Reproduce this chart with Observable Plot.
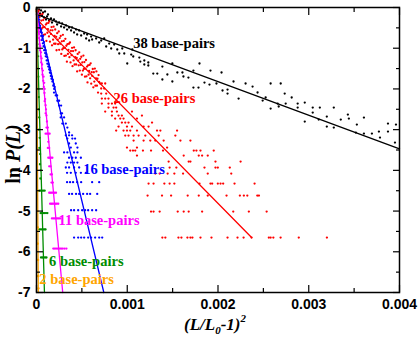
<!DOCTYPE html>
<html><head><meta charset="utf-8">
<script src="https://cdn.jsdelivr.net/npm/d3@7"></script>
<script src="https://cdn.jsdelivr.net/npm/@observablehq/plot@0.6"></script>
<style>body{margin:0;background:#fff}#chart svg{display:block}</style>
</head><body><div id="chart"></div>
<script>
// x values below are in thousandths (×1e-3) of (L/L0-1)^2 ; y = ln P(L)
const black = [[0.006,-0.025],[0.017,-0.098],[0.028,-0.049],[0.039,-0.147],[0.050,-0.074],[0.061,-0.197],[0.072,-0.123],[0.083,-0.246],[0.094,-0.098],[0.105,-0.295],[0.116,-0.221],[0.127,-0.172],[0.138,-0.319],[0.160,-0.270],[0.171,-0.369],[0.193,-0.295],[0.215,-0.344],[0.227,-0.418],[0.249,-0.369],[0.271,-0.467],[0.282,-0.393],[0.304,-0.491],[0.326,-0.442],[0.337,-0.541],[0.359,-0.491],[0.381,-0.565],[0.392,-0.491],[0.414,-0.614],[0.436,-0.541],[0.448,-0.663],[0.470,-0.565],[0.492,-0.688],[0.525,-0.639],[0.547,-0.762],[0.558,-0.663],[0.580,-0.811],[0.602,-0.713],[0.613,-0.786],[0.657,-0.762],[0.691,-0.860],[0.713,-0.811],[0.746,-0.762],[0.768,-0.958],[0.801,-0.885],[0.823,-1.007],[0.856,-0.909],[0.890,-1.032],[0.912,-1.130],[0.945,-1.007],[0.967,-1.130],[1.000,-1.376],[1.044,-1.155],[1.055,-1.032],
[1.066,-1.204],[1.133,-1.229],[1.144,-1.327],[1.188,-1.302],[1.188,-1.400],[1.232,-1.351],[1.232,-1.425],[1.287,-1.622],[1.331,-1.622],[1.387,-1.450],[1.387,-1.769],[1.442,-1.646],[1.497,-1.376],[1.497,-1.818],[1.552,-1.597],[1.608,-1.597],[1.619,-1.695],[1.674,-1.720],[1.729,-1.548],[1.729,-1.966],[1.785,-1.966],[1.796,-1.376],[1.851,-1.843],[1.906,-1.892],[1.917,-1.548],[1.983,-1.867],[2.039,-1.597],[2.050,-2.039],[2.105,-2.015],[2.105,-2.113],[2.171,-1.818],[2.227,-2.236],[2.304,-1.867],[2.381,-1.941],[2.436,-2.088],[2.492,-2.285],[2.525,-2.211],[2.580,-1.867],[2.580,-2.482],[2.657,-2.359],
[2.691,-1.867],[2.669,-2.432],[2.735,-2.113],[2.746,-2.359],[2.812,-2.211],[2.878,-2.359],[2.878,-2.457],[2.956,-2.334],[2.956,-2.801],[3.044,-2.457],[3.044,-2.580],[3.122,-2.457],[3.110,-2.752],[3.199,-2.678],[3.199,-2.924],[3.276,-2.457],[3.276,-2.948],[3.353,-2.752],[3.431,-2.629],[3.442,-2.727],[3.530,-2.875],[3.519,-3.071],[3.608,-2.703],[3.608,-3.096],[3.696,-3.096],[3.773,-3.047],[3.785,-3.194],[3.873,-2.850],[3.873,-3.047],[3.961,-2.875],[3.950,-3.317]];

const redBand = [[0.004,-0.08],[0.008,-0.25],[0.015,-0.14],[0.018,-0.40],[0.024,-0.08],[0.032,-0.24],[0.036,-0.38],[0.041,-0.18],[0.048,-0.52],[0.054,-0.32],[0.057,-0.52],[0.065,-0.16],[0.07,-0.49],[0.074,-0.31],[0.08,-0.67],[0.087,-0.48],[0.092,-0.26],[0.095,-0.66],[0.103,-0.42],[0.109,-0.82],[0.113,-0.39],[0.12,-0.62],[0.126,-0.53],[0.131,-0.38],[0.137,-0.71],[0.142,-0.34],[0.148,-0.84],[0.155,-0.56],[0.159,-0.65],[0.166,-0.48],[0.171,-0.93],[0.176,-0.56],[0.183,-0.79],[0.188,-0.47],[0.194,-0.89],[0.199,-0.70],[0.206,-0.54],[0.21,-0.89],[0.217,-0.72],[0.221,-1.05],[0.228,-0.63],[0.234,-0.79],[0.238,-0.90],[0.245,-0.59],[0.25,-1.04],[0.256,-0.75],[0.262,-0.89],[0.267,-0.70],[0.273,-1.14],[0.279,-0.83],[0.284,-1.03],[0.291,-0.67],[0.295,-1.00],[0.301,-0.82],[0.307,-1.19],[0.312,-0.99],[0.318,-0.77],[0.324,-1.18],[0.329,-0.94],[0.335,-1.33],[0.341,-0.90],[0.346,-1.14],[0.352,-1.04],[0.358,-0.89],[0.363,-1.22],[0.369,-0.86],[0.375,-1.35],[0.38,-1.07],[0.386,-1.17],[0.392,-0.99],[0.397,-1.44],[0.403,-1.07],[0.409,-1.30],[0.414,-0.98],[0.42,-1.40],[0.426,-1.22],[0.431,-1.05],[0.437,-1.40],[0.443,-1.24],[0.448,-1.57],[0.454,-1.14],[0.46,-1.30],[0.465,-1.42],[0.471,-1.10],[0.477,-1.55],[0.482,-1.26],[0.488,-1.41],[0.494,-1.21],[0.5,-1.65],[0.505,-1.35],[0.511,-1.55],[0.517,-1.18],[0.522,-1.51],[0.528,-1.34],[0.534,-1.70],[0.54,-1.50],[0.545,-1.29],[0.551,-1.69],[0.557,-1.45],[0.562,-1.84],[0.568,-1.42],[0.574,-1.65],[0.58,-1.56],[0.585,-1.41],[0.591,-1.74],[0.597,-1.37],[0.603,-1.87],[0.608,-1.59],[0.614,-1.68],[0.62,-1.51],[0.626,-1.96],[0.632,-1.59],[0.637,-1.82],[0.643,-1.50],[0.649,-1.92],[0.655,-1.74],[0.66,-1.57],[0.666,-1.92],[0.672,-1.75],[0.678,-2.09],[0.684,-1.66],[0.69,-1.83]];
const redRows = [
 [-1.867,[0.702,0.720,0.757]],
 [-1.990,[0.713,0.746]],
 [-2.113,[0.713,0.768]],
 [-2.236,[0.720,0.757,0.793]],
 [-2.359,[0.720,0.793,0.831,0.867]],
 [-2.457,[0.793,0.849,0.878]],
 [-2.555,[0.757,0.831,0.886,1.052]],
 [-2.654,[0.831,0.904,0.941,1.162]],
 [-2.727,[0.867,0.923,0.959,1.107]],
 [-2.826,[0.941,0.978,1.014,1.273]],
 [-2.924,[0.904,0.997,1.052,1.180,1.235]],
 [-3.022,[0.878,0.959,0.997,1.033,1.107,1.328,1.365,1.549]],
 [-3.145,[0.978,1.014,1.070,1.125,1.199,1.346,1.530]],
 [-3.268,[1.070,1.180,1.254,1.309,1.401,1.586,1.696]],
 [-3.440,[0.997,1.107,1.439]],
 [-3.514,[1.033,1.063,1.088,1.173,1.262,1.394,1.733,1.762,1.807,1.953]],
 [-3.636,[1.107,1.622,1.788,1.825,1.887]],
 [-3.784,[1.456,1.677,1.696,1.972,2.249]],
 [-3.931,[1.467,1.541,1.851,1.972,1.998,2.130]],
 [-4.079,[1.310,1.357,1.445,1.519,1.615,1.887,2.146]],
 [-4.324,[1.235,1.290,1.409,1.467,1.519,1.796,1.917,1.936,1.998,2.028,2.057,2.182,2.403]],
 [-4.619,[1.224,1.383,1.483,1.666,1.788,1.887,2.094,2.241,2.285,2.323,2.433,2.451]],
 [-5.012,[1.262,1.290,1.357,1.556,1.622,1.677,1.825,2.168,2.340,2.536]],
 [-5.651,[1.387,1.420,1.564,1.597,1.663,1.696,1.718,1.807,1.928,2.105,2.215,2.282,2.370,2.560,2.580,2.610,2.690,2.890,3.200]]
];

const blueBand = [[0.005,-0.05],[0.01,-0.15],[0.012,-0.25],[0.02,-0.22],[0.022,-0.35],[0.028,-0.42],[0.03,-0.30],[0.035,-0.50],[0.04,-0.45],[0.042,-0.60],[0.05,-0.55],[0.052,-0.70],[0.058,-0.62],[0.06,-0.80],[0.065,-0.75],[0.07,-0.88],[0.072,-0.70],[0.078,-0.95],[0.082,-0.85],[0.085,-1.05],[0.09,-0.98],[0.095,-1.12],[0.10,-1.05],[0.102,-1.20],[0.108,-1.15],[0.112,-1.30],[0.118,-1.22],[0.12,-1.38],[0.125,-1.30],[0.13,-1.45],[0.135,-1.40],[0.14,-1.52],[0.145,-1.48],[0.148,-1.60],[0.152,-1.55],[0.158,-1.68],[0.16,-1.62],[0.165,-1.75],[0.17,-1.70],[0.175,-1.82],[0.18,-1.78],[0.185,-1.92],[0.19,-1.88],[0.195,-2.00],[0.20,-1.95]];
const blueRows = [
 [-2.09,[0.193]],[-2.16,[0.212,0.227]],[-2.29,[0.230,0.249]],[-2.41,[0.249,0.271]],[-2.60,[0.267,0.282]],[-2.70,[0.304,0.267]],[-2.85,[0.323,0.285]],[-2.95,[0.340]],[-3.07,[0.359]],[-3.14,[0.323,0.359,0.392]],[-3.22,[0.340,0.395,0.425]],[-3.34,[0.359,0.433]],[-3.44,[0.378,0.451]],[-3.56,[0.304,0.340,0.414,0.451]],[-3.69,[0.359,0.395,0.433,0.489]],[-3.81,[0.340,0.378,0.414,0.451]],[-3.93,[0.323,0.359,0.414,0.470]],[-4.06,[0.337,0.378,0.433,0.489,0.544]],[-4.29,[0.337,0.370,0.403,0.448,0.492,0.613,0.691]],[-4.58,[0.359,0.392,0.436,0.470,0.514,0.558,0.591,0.669]],[-4.98,[0.381,0.414,0.459,0.503,0.536,0.569,0.613,0.657]],[-5.65,[0.414,0.459,0.492,0.525,0.569,0.602,0.646,0.691,0.724]]
];

const magentaBand = [[0.003,-0.05],[0.006,-0.2],[0.01,-0.3],[0.012,-0.15],[0.016,-0.45],[0.02,-0.4],[0.022,-0.6],[0.025,-0.55],[0.028,-0.75],[0.03,-0.65],[0.034,-0.9],[0.036,-0.8],[0.04,-1.05],[0.042,-0.95],[0.046,-1.2],[0.05,-1.1],[0.052,-1.35],[0.056,-1.25],[0.06,-1.5],[0.062,-1.4],[0.066,-1.65],[0.07,-1.55],[0.074,-1.8],[0.078,-1.7],[0.08,-1.95],[0.085,-1.85],[0.088,-2.1],[0.09,-2.0],[0.095,-2.25],[0.10,-2.4],[0.09,-2.3],[0.105,-2.5],[0.11,-2.65],[0.10,-2.6],[0.115,-2.8],[0.125,-2.95],[0.11,-2.95],[0.13,-3.3],[0.14,-3.45],[0.125,-3.45],[0.155,-3.9],[0.14,-3.9],[0.17,-4.1],[0.155,-4.1],[0.165,-4.3],[0.18,-4.3]];
const magentaRows = [
 [-3.1,[0.1,0.115,0.13,0.145]],[-3.69,[0.13,0.145,0.16,0.175]],[-4.55,[0.14,0.155,0.17,0.185,0.2,0.215]],[-4.82,[0.15,0.165,0.18,0.195,0.21,0.225,0.24]],[-5.18,[0.17,0.185,0.2,0.215,0.23,0.245,0.26]],[-5.92,[0.185,0.2,0.215,0.23,0.245,0.26,0.275,0.29,0.31,0.33]]
];

const greenBand = [[0.003,-0.05],[0.006,-0.3],[0.01,-0.6],[0.008,-0.9],[0.015,-1.2],[0.012,-1.5],[0.02,-1.7],[0.018,-2.0],[0.025,-2.2],[0.022,-2.5],[0.03,-2.7],[0.028,-3.0],[0.035,-3.2],[0.032,-3.45],[0.04,-3.6],[0.038,-3.85],[0.045,-4.0],[0.042,-4.2]];
const greenRows = [
 [-4.5,[0.03,0.045,0.06,0.075,0.09]],[-5.05,[0.045,0.06,0.075,0.09,0.105,0.12]],[-5.45,[0.03,0.045,0.06,0.075,0.09,0.1]],[-6.14,[0.05,0.065,0.08,0.095,0.11]]
];

const orange = [[0.002,-0.1],[0.004,-0.5],[0.003,-1.0],[0.006,-1.5],[0.005,-2.0],[0.008,-2.5],[0.007,-3.0],[0.01,-3.5],[0.009,-4.0],[0.012,-4.5],[0.011,-5.0],[0.015,-5.4],[0.013,-5.8],[0.01,-5.8],[0.018,-6.2],[0.012,-6.2],[0.02,-6.6],[0.016,-6.6],[0.022,-6.9]];

// fitted straight lines: [x (thousandths), y] end points
const blackFit = [[0,-0.17],[4.0,-3.47]];
const redFit = [[0,-0.28],[2.37,-5.65]];
const blueFit = [[0,-0.1],[0.742,-7]];
const magentaFit = [[0,-0.03],[0.289,-7]];
const greenFit = [[0,0],[0.0875,-7]];
const orangeFit = [[0,0],[0.02,-7]];

const colors = {black:"#000000", red:"#ff0000", blue:"#0000ff", magenta:"#ff00ff", green:"#008c00", orange:"#ffa500"};

const seriesLabels = [
 ["38 base-pairs", 1.066, -0.89, "black"],
 ["26 base-pairs", 0.849, -2.24, "red"],
 ["16 base-pairs", 0.514, -3.98, "blue"],
 ["11 base-pairs", 0.243, -5.23, "magenta"],
 ["6 base-pairs", 0.138, -6.24, "green"],
 ["2 base-pairs", 0.031, -6.68, "orange"]
];

const xMajor = [0, 0.001, 0.002, 0.003, 0.004];
const xMinor = [0.0005, 0.0015, 0.0025, 0.0035];
const yMajor = [-7, -6, -5, -4, -3, -2, -1, 0];
const yMinor = [-6.5, -5.5, -4.5, -3.5, -2.5, -1.5, -0.5];

const rows = (r) => r.flatMap(([y, xs]) => xs.map(x => [x, y]));
const sets = [
 ["black", black], ["red", redBand.concat(rows(redRows))], ["blue", blueBand.concat(rows(blueRows))],
 ["magenta", magentaBand.concat(rows(magentaRows))], ["green", greenBand.concat(rows(greenRows))], ["orange", orange]
];
const points = sets.flatMap(([c, pts]) => pts.map(([x, y]) => ({x: x / 1000, y, c: colors[c]})));
const fits = [["black", blackFit], ["red", redFit], ["blue", blueFit], ["magenta", magentaFit], ["green", greenFit], ["orange", orangeFit]]
  .flatMap(([c, pts]) => pts.map(([x, y]) => ({x: x / 1000, y, s: c, c: colors[c]})));
const labels = seriesLabels.map(([t, x, y, c]) => ({t, x: x / 1000, y, c: colors[c]}));

const serif = "'Liberation Serif', 'Times New Roman', serif";
const tickStyle = {stroke: "black", strokeWidth: 1.2, tickFormat: () => "", label: null};
const chart = Plot.plot({
  width: 419, height: 338,
  marginLeft: 36, marginRight: 20, marginTop: 7, marginBottom: 46,
  x: {domain: [0, 0.004]},
  y: {domain: [-7, 0]},
  color: {type: "identity"},
  style: {background: "white", fontFamily: "'Liberation Sans', Arial, sans-serif", color: "black"},
  marks: [
    Plot.dot(points, {x: "x", y: "y", r: 1.15, fill: "c", stroke: null}),
    Plot.line(fits, {x: "x", y: "y", z: "s", stroke: "c", strokeWidth: 1.3}),
    Plot.text(labels, {x: "x", y: "y", text: "t", fill: "c", textAnchor: "start", fontFamily: serif, fontWeight: "bold", fontSize: 14.5}),
    Plot.frame({stroke: "black", strokeWidth: 1.5}),
    Plot.axisX({anchor: "bottom", ticks: xMajor, tickSize: 0, tickPadding: 7, tickFormat: d => String(d), label: null, fontSize: 14, fontWeight: "bold"}),
    Plot.axisY({anchor: "left", ticks: yMajor, tickSize: 0, tickPadding: 6, tickFormat: d => String(d), label: null, fontSize: 14, fontWeight: "bold"}),
    Plot.axisX({anchor: "bottom", ticks: xMajor, tickSize: -7, ...tickStyle}),
    Plot.axisX({anchor: "bottom", ticks: xMinor, tickSize: -4, ...tickStyle}),
    Plot.axisX({anchor: "top", ticks: xMajor, tickSize: -7, ...tickStyle}),
    Plot.axisX({anchor: "top", ticks: xMinor, tickSize: -4, ...tickStyle}),
    Plot.axisY({anchor: "left", ticks: yMajor, tickSize: -7, ...tickStyle}),
    Plot.axisY({anchor: "left", ticks: yMinor, tickSize: -4, ...tickStyle}),
    Plot.axisY({anchor: "right", ticks: yMajor, tickSize: -7, ...tickStyle}),
    Plot.axisY({anchor: "right", ticks: yMinor, tickSize: -4, ...tickStyle})
  ]
});
document.getElementById("chart").appendChild(chart);

const svg = d3.select(chart);
const xl = svg.append("text").attr("x", 215).attr("y", 330).attr("text-anchor", "middle")
  .attr("font-family", serif).attr("font-size", 17).attr("font-weight", "bold").attr("font-style", "italic").attr("fill", "black");
xl.append("tspan").text("(L/L");
xl.append("tspan").attr("font-size", 11).attr("dy", 4).text("0");
xl.append("tspan").attr("dy", -4).text("-1)");
xl.append("tspan").attr("font-size", 11).attr("dy", -8).text("2");

const yl = svg.append("text").attr("transform", "translate(20,154) rotate(-90)").attr("text-anchor", "middle")
  .attr("font-family", serif).attr("font-size", 20).attr("font-weight", "bold").attr("fill", "black");
yl.append("tspan").text("ln ");
yl.append("tspan").attr("font-style", "italic").text("P(L)");
</script>
</body></html>
